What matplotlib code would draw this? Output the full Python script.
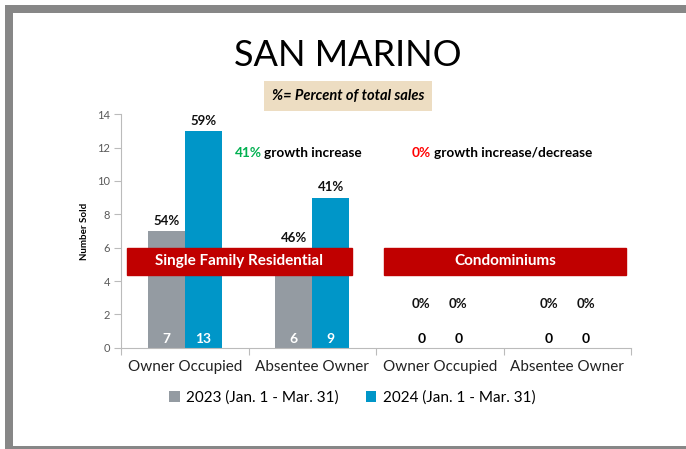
import matplotlib
matplotlib.use("Agg")
import matplotlib.pyplot as plt
from matplotlib.patches import Rectangle

## data
categories = ["Owner Occupied", "Absentee Owner", "Owner Occupied", "Absentee Owner"]
sold_2023 = [7, 6, 0, 0]
sold_2024 = [13, 9, 0, 0]
pct_2023 = ["54%", "46%", "0%", "0%"]
pct_2024 = ["59%", "41%", "0%", "0%"]
series_names = ["2023 (Jan. 1 - Mar. 31)", "2024 (Jan. 1 - Mar. 31)"]
yticks = [0, 2, 4, 6, 8, 10, 12, 14]

gray = "#949BA2"
blue = "#0096C8"
red = "#C00000"
font = "Lato"

W, H = 686, 449
fig = plt.figure(figsize=(W / 100, H / 100), dpi=100)
fig.patch.set_facecolor("white")

## gray frame round the slide
def px_rect(x0, y0, x1, y1, color):
    fig.add_artist(Rectangle((x0 / W, 1 - y1 / H), (x1 - x0) / W, (y1 - y0) / H,
                             transform=fig.transFigure, color=color, lw=0))

px_rect(5, 5, 686, 13, "#878787")
px_rect(5, 5, 13, 449, "#878787")
px_rect(5, 446, 686, 449, "#878787")

ax = fig.add_axes([121 / W, 1 - 347.7 / H, 510 / W, 233.4 / H])
x = range(len(categories))
bw = 0.29
g = ax.bar([i - bw / 2 for i in x], sold_2023, bw, color=gray, label=series_names[0])
b = ax.bar([i + bw / 2 for i in x], sold_2024, bw, color=blue, label=series_names[1])

ax.set_xlim(-0.5, 3.5)
ax.set_ylim(0, 14)
ax.set_yticks(yticks)
ax.set_xticks([i - 0.5 for i in range(len(categories) + 1)], minor=False)
ax.set_xticklabels([])
ax.set_xticks(list(x), minor=True)
ax.set_xticklabels(categories, minor=True, fontsize=11, family=font, color="#222222")
ax.tick_params(axis="x", which="minor", length=0, pad=9)
ax.tick_params(axis="x", which="major", length=5, color="#BBBBBB", direction="out")
ax.tick_params(axis="y", length=5, color="#BBBBBB", labelsize=8, labelcolor="#595959", pad=3)
for lab in ax.get_yticklabels():
    lab.set_family(font)
for s in ["top", "right"]:
    ax.spines[s].set_visible(False)
ax.spines["left"].set_color("#BBBBBB")
ax.spines["bottom"].set_color("#BBBBBB")
ax.set_ylabel("Number Sold", fontsize=7, fontweight="bold", family=font, labelpad=6)

## labels in and above the bars
for bars, vals, pcts in [(g, sold_2023, pct_2023), (b, sold_2024, pct_2024)]:
    for r, v, p in zip(bars, vals, pcts):
        cx = r.get_x() + r.get_width() / 2
        col = "white" if v > 0 else "black"
        ax.text(cx, 0.5, str(v), ha="center", va="center", color=col,
                fontsize=10, fontweight="bold", family=font)
        top = v if v > 0 else 2.0
        ax.text(cx, top + 0.25, p, ha="center", va="bottom",
                fontsize=9.5, fontweight="bold", family=font, color="#111111")

## section banners
ax.add_patch(Rectangle((-0.455, 4.37), 1.764, 1.63, color=red, zorder=5, clip_on=False))
ax.text(0.427, 5.18, "Single Family Residential", ha="center", va="center", color="white",
        fontsize=11, fontweight="bold", family=font, zorder=6)
ax.add_patch(Rectangle((1.563, 4.37), 1.898, 1.63, color=red, zorder=5, clip_on=False))
ax.text(2.512, 5.18, "Condominiums", ha="center", va="center", color="white",
        fontsize=11, fontweight="bold", family=font, zorder=6)

## growth notes
ax.text(0.39, 11.7, "41%", color="#00B050", fontsize=9.8, fontweight="bold", family=font,
        ha="left", va="center")
ax.text(0.62, 11.7, "growth increase", color="black", fontsize=9.8, fontweight="bold", family=font,
        ha="left", va="center")
ax.text(1.78, 11.7, "0%", color="#FF0000", fontsize=9.8, fontweight="bold", family=font,
        ha="left", va="center")
ax.text(1.955, 11.7, "growth increase/decrease", color="black", fontsize=9.8, fontweight="bold",
        family=font, ha="left", va="center")

## title and note box
fig.text(348 / W, 1 - 55 / H, "SAN MARINO", ha="center", va="center", fontsize=26, family=font)
fig.text(348 / W, 1 - 96 / H, "%= Percent of total sales", ha="center", va="center",
         fontsize=10.5, fontweight="bold", style="italic", family=font,
         bbox=dict(boxstyle="square,pad=0.55", fc="#EDDDC2", ec="none"))

leg = fig.legend(handles=[g, b], labels=series_names, loc="center", ncol=2,
                 bbox_to_anchor=(352 / W, 1 - 398 / H), frameon=False,
                 prop={"family": font, "size": 11}, handlelength=0.7, handleheight=0.7,
                 handletextpad=0.4, columnspacing=1.8)

fig.savefig("out.png", dpi=100)
